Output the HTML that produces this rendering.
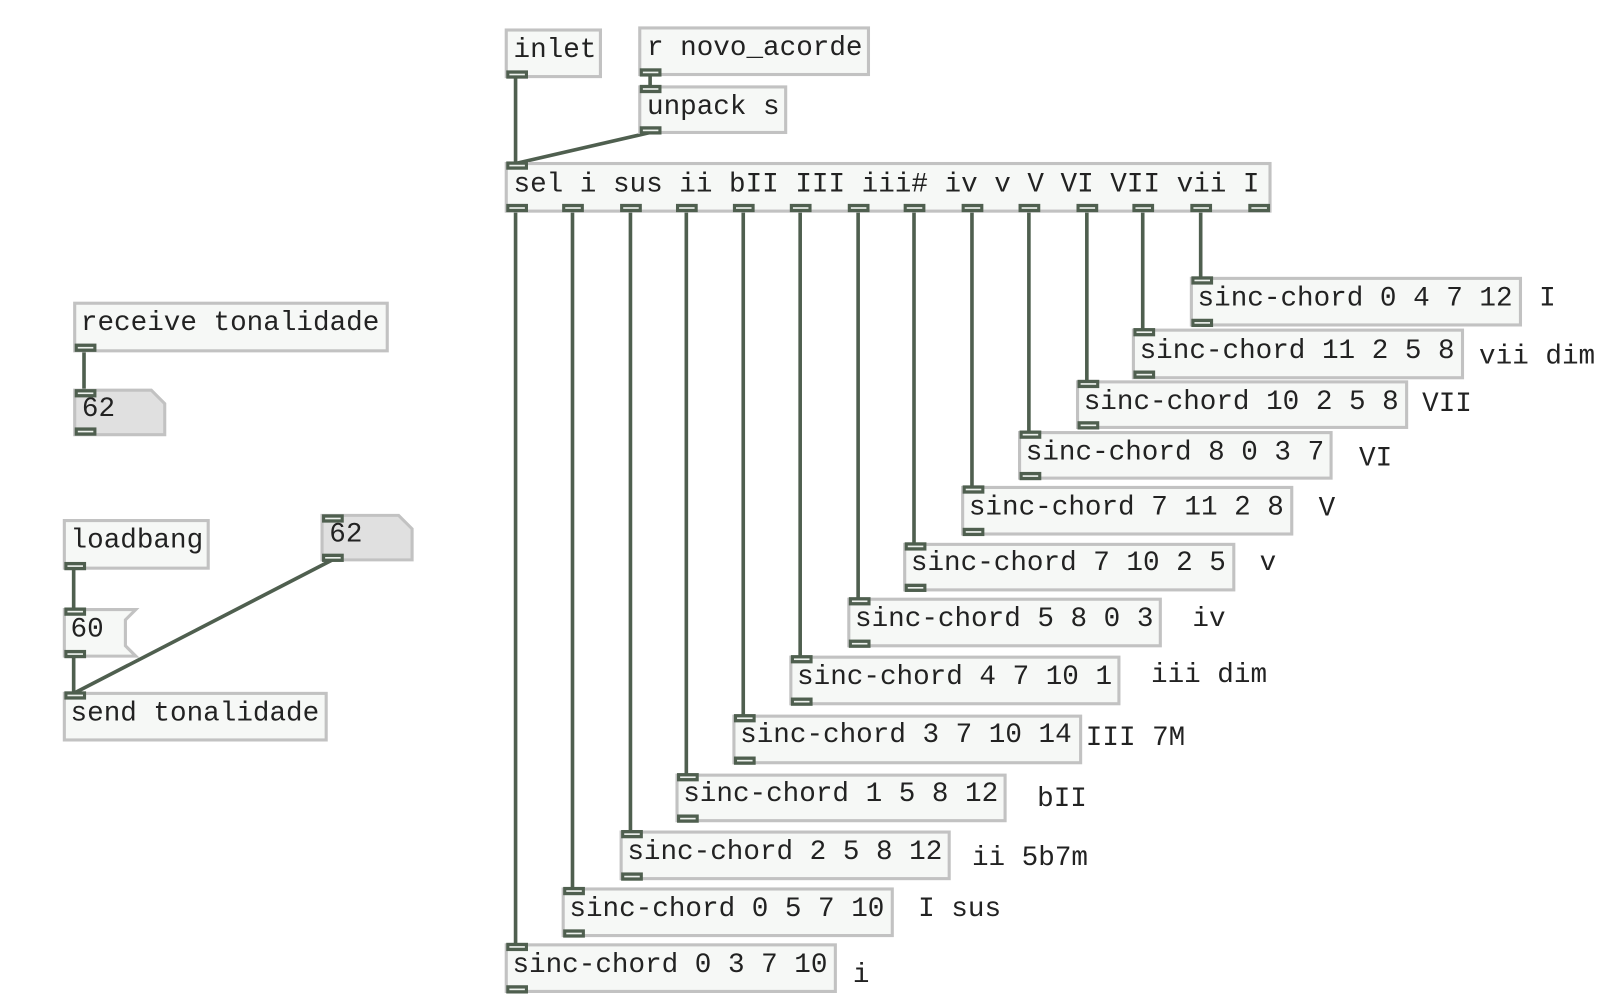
<!DOCTYPE html>
<html><head><meta charset="utf-8"><style>
html,body{margin:0;padding:0;background:#fff;}
svg{display:block}
text{font-family:"Liberation Mono",monospace;font-size:26.7px;fill:#222;}
.b{fill:#f6f8f6;stroke:#c2c2c2;stroke-width:3}
.a{fill:#e0e0e0;stroke:#c2c2c2;stroke-width:3}
.c{stroke:#4f5f4f;stroke-width:3.5;fill:none}
.io{fill:#4f5f4f}
.iol{stroke:#eef2ee;stroke-width:1.6}
</style></head><body>
<svg width="1620" height="1008" viewBox="0 0 1565 974" xmlns="http://www.w3.org/2000/svg">
<defs>
<g id="p"><rect class="io" x="0" y="0" width="21" height="8"/><line class="iol" x1="3" y1="4" x2="18" y2="4"/></g>
</defs>
<g class="c">
<line x1="498" y1="74" x2="498" y2="158"/>
<line x1="628" y1="72" x2="628" y2="84"/>
<line x1="628" y1="128" x2="498" y2="158"/>
<line x1="81" y1="339" x2="81" y2="377"/>
<line x1="71" y1="549" x2="71" y2="589"/>
<line x1="71" y1="634" x2="71" y2="670"/>
<line x1="321" y1="541" x2="71" y2="670"/>
<line x1="498" y1="204" x2="498" y2="913"/>
<line x1="553" y1="204" x2="553" y2="859"/>
<line x1="609" y1="204" x2="609" y2="804"/>
<line x1="663" y1="204" x2="663" y2="749"/>
<line x1="718" y1="204" x2="718" y2="692"/>
<line x1="773" y1="204" x2="773" y2="635"/>
<line x1="829" y1="204" x2="829" y2="579"/>
<line x1="883" y1="204" x2="883" y2="526"/>
<line x1="939" y1="204" x2="939" y2="471"/>
<line x1="994" y1="204" x2="994" y2="418"/>
<line x1="1050" y1="204" x2="1050" y2="369"/>
<line x1="1104" y1="204" x2="1104" y2="319"/>
<line x1="1160" y1="204" x2="1160" y2="269"/>
</g>
<rect class="b" x="489" y="29" width="91" height="45"/><text x="496" y="55">inlet</text>
<use href="#p" x="489" y="68"/>
<rect class="b" x="618" y="27" width="221" height="45"/><text x="625" y="53">r novo_acorde</text>
<use href="#p" x="618" y="66"/>
<rect class="b" x="618" y="84" width="141" height="44"/><text x="625" y="110">unpack s</text>
<use href="#p" x="618" y="82"/><use href="#p" x="618" y="122"/>
<rect class="b" x="489" y="158" width="738" height="46"/><text x="496" y="185">sel i sus ii bII III iii# iv v V VI VII vii I</text>
<use href="#p" x="489" y="156"/>
<use href="#p" x="489" y="197"/><use href="#p" x="543" y="197"/><use href="#p" x="599" y="197"/><use href="#p" x="653" y="197"/><use href="#p" x="708" y="197"/><use href="#p" x="763" y="197"/><use href="#p" x="819" y="197"/><use href="#p" x="873" y="197"/><use href="#p" x="929" y="197"/><use href="#p" x="984" y="197"/><use href="#p" x="1040" y="197"/><use href="#p" x="1094" y="197"/><use href="#p" x="1150" y="197"/><use href="#p" x="1206" y="197"/>

<rect class="b" x="72" y="293" width="302" height="46"/><text x="78" y="319">receive tonalidade</text>
<use href="#p" x="72" y="332"/>
<path class="a" d="M72 377 H146 L159 390 V420 H72 Z"/><text x="79" y="402">62</text>
<use href="#p" x="72" y="376"/><use href="#p" x="72" y="413"/>

<rect class="b" x="62" y="503" width="139" height="46"/><text x="68" y="529">loadbang</text>
<use href="#p" x="62" y="543"/>
<path class="a" d="M311 498 H385 L398 511 V541 H311 Z"/><text x="318" y="523">62</text>
<use href="#p" x="311" y="497"/><use href="#p" x="311" y="535"/>
<path class="b" d="M62 589 H131 L121 599 V624 L131 634 H62 Z"/><text x="68" y="615">60</text>
<use href="#p" x="62" y="587"/><use href="#p" x="62" y="628"/>
<rect class="b" x="62" y="670" width="253" height="45"/><text x="68" y="696">send tonalidade</text>
<use href="#p" x="62" y="668"/>

<g>
<rect class="b" x="1151" y="269" width="318" height="45"/><text x="1157" y="295">sinc-chord 0 4 7 12</text><use href="#p" x="1151" y="267"/><use href="#p" x="1151" y="308"/><text x="1487" y="295">I</text>
<rect class="b" x="1095" y="319" width="318" height="46"/><text x="1101" y="346">sinc-chord 11 2 5 8</text><use href="#p" x="1095" y="317"/><use href="#p" x="1095" y="358"/><text x="1429" y="351">vii dim</text>
<rect class="b" x="1041" y="369" width="318" height="44"/><text x="1047" y="395">sinc-chord 10 2 5 8</text><use href="#p" x="1041" y="367"/><use href="#p" x="1041" y="407"/><text x="1374" y="397">VII</text>
<rect class="b" x="985" y="418" width="301" height="44"/><text x="991" y="444">sinc-chord 8 0 3 7</text><use href="#p" x="985" y="416"/><use href="#p" x="985" y="456"/><text x="1313" y="450">VI</text>
<rect class="b" x="930" y="471" width="318" height="45"/><text x="936" y="497">sinc-chord 7 11 2 8</text><use href="#p" x="930" y="469"/><use href="#p" x="930" y="510"/><text x="1274" y="498">V</text>
<rect class="b" x="874" y="526" width="318" height="44"/><text x="880" y="551">sinc-chord 7 10 2 5</text><use href="#p" x="874" y="524"/><use href="#p" x="874" y="564"/><text x="1217" y="551">v</text>
<rect class="b" x="820" y="579" width="301" height="45"/><text x="826" y="605">sinc-chord 5 8 0 3</text><use href="#p" x="820" y="577"/><use href="#p" x="820" y="618"/><text x="1152" y="605">iv</text>
<rect class="b" x="764" y="635" width="317" height="45"/><text x="770" y="661">sinc-chord 4 7 10 1</text><use href="#p" x="764" y="633"/><use href="#p" x="764" y="674"/><text x="1112" y="659">iii dim</text>
<rect class="b" x="709" y="692" width="335" height="45"/><text x="715" y="717">sinc-chord 3 7 10 14</text><use href="#p" x="709" y="690"/><use href="#p" x="709" y="731"/><text x="1049" y="720">III 7M</text>
<rect class="b" x="654" y="749" width="317" height="44"/><text x="660" y="774">sinc-chord 1 5 8 12</text><use href="#p" x="654" y="747"/><use href="#p" x="654" y="787"/><text x="1002" y="779">bII</text>
<rect class="b" x="600" y="804" width="317" height="45"/><text x="606" y="830">sinc-chord 2 5 8 12</text><use href="#p" x="600" y="802"/><use href="#p" x="600" y="843"/><text x="939" y="836">ii 5b7m</text>
<rect class="b" x="544" y="859" width="318" height="45"/><text x="550" y="885">sinc-chord 0 5 7 10</text><use href="#p" x="544" y="857"/><use href="#p" x="544" y="898"/><text x="887" y="885">I sus</text>
<rect class="b" x="489" y="913" width="318" height="45"/><text x="495" y="939">sinc-chord 0 3 7 10</text><use href="#p" x="489" y="911"/><use href="#p" x="489" y="952"/><text x="824" y="949">i</text>
</g>
</svg>
</body></html>
